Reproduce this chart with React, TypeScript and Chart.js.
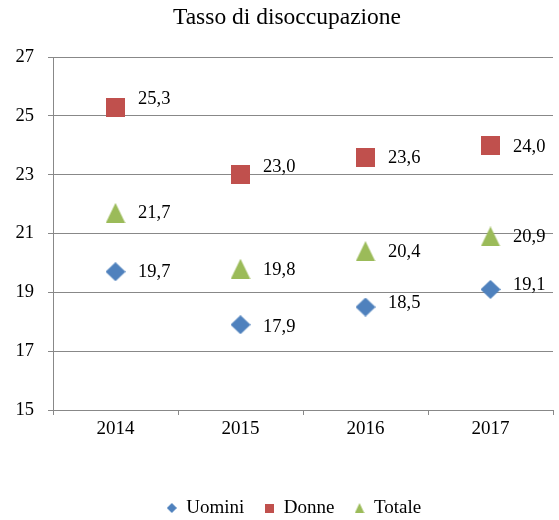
import React, { useEffect, useRef } from "react";
import { Chart, registerables } from "chart.js";

Chart.register(...registerables);

const categories = ["2014", "2015", "2016", "2017"];
const uomini = [19.7, 17.9, 18.5, 19.1];
const donne = [25.3, 23.0, 23.6, 24.0];
const totale = [21.7, 19.8, 20.4, 20.9];
const seriesNames = ["Uomini", "Donne", "Totale"];
const titleText = "Tasso di disoccupazione";
const yMin = 15;
const yMax = 27;
const yStep = 2;

const FONT = "'Liberation Serif', 'Times New Roman', serif";
const GRID = "#888888";
const BLUE = "#4F81BD";
const RED = "#C0504D";
const GREEN = "#9BBB59";

// small vertical nudges of value labels (px), as in the reference
const labelNudges = [
  [0, 2, -4, -4],
  [-8, -8, 1, 2],
  [0, 1, 1, 1],
];

function makeMarker(kind: string, color: string, w: number, h: number): HTMLCanvasElement {
  const c = document.createElement("canvas");
  c.width = w;
  c.height = h;
  const g = c.getContext("2d")!;
  g.fillStyle = color;
  g.beginPath();
  if (kind === "triangle") {
    g.moveTo(0.3, h);
    g.lineTo(w / 2, 0);
    g.lineTo(w - 0.3, h);
  } else if (kind === "diamond") {
    g.moveTo(w / 2, 0);
    g.lineTo(w, h / 2);
    g.lineTo(w / 2, h);
    g.lineTo(0, h / 2);
  } else {
    g.rect(0, 0, w, h);
  }
  g.closePath();
  g.fill();
  return c;
}

const valueLabels = {
  id: "valueLabels",
  afterDatasetsDraw(chart: any) {
    const ctx = chart.ctx;
    ctx.save();
    ctx.font = `18.5px ${FONT}`;
    ctx.fillStyle = "#000";
    ctx.textAlign = "left";
    ctx.textBaseline = "middle";
    chart.data.datasets.forEach((ds: any, di: number) => {
      const meta = chart.getDatasetMeta(di);
      meta.data.forEach((el: any, i: number) => {
        const v = ds.data[i] as number;
        const txt = v.toFixed(1).replace(".", ",");
        const dy = (labelNudges[di] && labelNudges[di][i]) || 0;
        ctx.fillText(txt, el.x + 22.5, el.y + dy);
      });
    });
    ctx.restore();
  },
};

// shift title and legend slightly to the right, as in the reference
const shiftBlocks = {
  id: "shiftBlocks",
  afterLayout(chart: any) {
    const lg = chart.legend;
    if (lg) {
      lg.left += 11;
      lg.right += 11;
    }
    const tb = chart.titleBlock;
    if (tb) {
      tb.left += 4;
      tb.right += 4;
    }
  },
};

export default function App() {
  const ref = useRef<HTMLCanvasElement | null>(null);

  useEffect(() => {
    document.body.style.margin = "0";
    const canvas = ref.current;
    if (!canvas) return;
    const legendMarkers = [
      makeMarker("diamond", BLUE, 10, 10),
      makeMarker("rect", RED, 9, 9),
      makeMarker("triangle", GREEN, 10, 10),
    ];
    const chart = new Chart(canvas, {
      type: "line",
      data: {
        labels: categories,
        datasets: [
          {
            label: seriesNames[0],
            data: uomini,
            showLine: false,
            pointStyle: makeMarker("diamond", BLUE, 20, 19) as any,
            pointRadius: 3,
            pointHoverRadius: 3,
            pointBorderWidth: 0,
            backgroundColor: BLUE,
            borderColor: BLUE,
            pointBackgroundColor: BLUE,
          },
          {
            label: seriesNames[1],
            data: donne,
            showLine: false,
            pointStyle: makeMarker("rect", RED, 19, 19) as any,
            pointRadius: 3,
            pointHoverRadius: 3,
            pointBorderWidth: 0,
            backgroundColor: RED,
            borderColor: RED,
            pointBackgroundColor: RED,
          },
          {
            label: seriesNames[2],
            data: totale,
            showLine: false,
            pointStyle: makeMarker("triangle", GREEN, 20, 20) as any,
            pointRadius: 3,
            pointHoverRadius: 3,
            pointBorderWidth: 0,
            backgroundColor: GREEN,
            borderColor: GREEN,
            pointBackgroundColor: GREEN,
          },
        ],
      },
      options: {
        responsive: false,
        animation: false,
        devicePixelRatio: 1,
        layout: { padding: { left: 13, right: 6, top: 0, bottom: 0 } },
        plugins: {
          title: {
            display: true,
            text: titleText,
            color: "#000",
            font: { family: FONT, size: 23.5, weight: "normal" },
            padding: { top: 4, bottom: 24.8 },
          },
          legend: {
            position: "bottom",
            maxHeight: 41.5,
            labels: {
              usePointStyle: true,
              boxHeight: 10,
              boxWidth: 10,
              padding: 20,
              color: "#000",
              font: { family: FONT, size: 19 },
              generateLabels: (ch: any) => {
                const items = (Chart.defaults.plugins.legend.labels as any).generateLabels(ch);
                return items.map((it: any, i: number) => ({
                  ...it,
                  pointStyle: legendMarkers[i],
                  lineWidth: 0,
                }));
              },
            },
          },
          tooltip: { enabled: false },
        },
        scales: {
          x: {
            type: "category",
            offset: true,
            grid: {
              display: true,
              offset: true,
              drawOnChartArea: false,
              drawTicks: true,
              tickLength: 5,
              color: GRID,
            },
            border: { display: true, color: GRID, width: 1 },
            ticks: {
              color: "#000",
              padding: 3,
              font: { family: FONT, size: 19 },
              maxRotation: 0,
            },
            afterFit: (s: any) => {
              s.height = 68.5;
            },
          },
          y: {
            min: yMin,
            max: yMax,
            grid: { color: GRID, tickLength: 5, lineWidth: 1 },
            border: { display: true, color: GRID, width: 1 },
            ticks: {
              stepSize: yStep,
              color: "#000",
              padding: 14,
              font: { family: FONT, size: 18.5 },
            },
            afterFit: (s: any) => {
              s.width = 40;
            },
          },
        },
      },
      plugins: [valueLabels, shiftBlocks],
    });
    return () => chart.destroy();
  }, []);

  return (
    <div style={{ width: 559, height: 520 }}>
      <canvas ref={ref} width={559} height={520} />
    </div>
  );
}
